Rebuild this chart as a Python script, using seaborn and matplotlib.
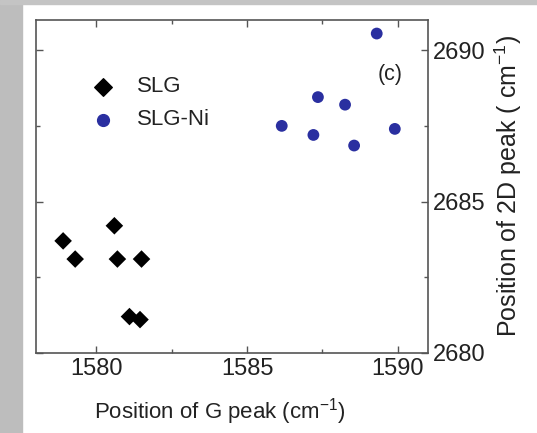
import numpy as np
import pandas as pd
import seaborn as sns
import matplotlib.pyplot as plt
from matplotlib.ticker import MultipleLocator
from matplotlib.patches import Rectangle

# data
slg_g = [1578.9, 1579.3, 1580.6, 1580.7, 1581.5, 1581.1, 1581.45]
slg_2d = [2683.7, 2683.1, 2684.2, 2683.1, 2683.1, 2681.2, 2681.1]
ni_g = [1589.3, 1587.35, 1588.25, 1586.15, 1587.2, 1588.55, 1589.9]
ni_2d = [2690.55, 2688.45, 2688.2, 2687.5, 2687.2, 2686.85, 2687.4]
groups = ['SLG', 'SLG-Ni']

df = pd.DataFrame({
    'G': slg_g + ni_g,
    '2D': slg_2d + ni_2d,
    'sample': [groups[0]] * len(slg_g) + [groups[1]] * len(ni_g),
})

sns.set_style('white')
plt.rcParams['font.family'] = ['Liberation Sans', 'DejaVu Sans']
plt.rcParams['mathtext.fontset'] = 'custom'
plt.rcParams['mathtext.rm'] = 'Liberation Sans'
plt.rcParams['mathtext.it'] = 'Liberation Sans:italic'

fig = plt.figure(figsize=(5.37, 4.33), dpi=100)
# grey border of the scanned page
fig.patches.append(Rectangle((0, 0), 22 / 537, 1, transform=fig.transFigure,
                             color='#bdbdbd', zorder=0))
fig.patches.append(Rectangle((0, 1 - 4 / 433), 1, 4 / 433, transform=fig.transFigure,
                             color='#c4c4c4', zorder=0))
ax = fig.add_axes([0.067, 0.185, 0.730, 0.769])

sns.scatterplot(data=df, x='G', y='2D', hue='sample', style='sample',
                palette={'SLG': 'black', 'SLG-Ni': '#2a2fa0'},
                markers={'SLG': 'D', 'SLG-Ni': 'o'},
                size='sample', sizes={'SLG': 80, 'SLG-Ni': 72},
                edgecolor='none', ax=ax, legend=False)

ax.set_xlim(1578, 1591)
ax.set_ylim(2680, 2691)
ax.xaxis.set_major_locator(MultipleLocator(5))
ax.xaxis.set_minor_locator(MultipleLocator(2.5))
ax.yaxis.set_major_locator(MultipleLocator(5))
ax.yaxis.set_minor_locator(MultipleLocator(2.5))
ax.tick_params(which='both', direction='in', top=True, bottom=True, left=True,
               right=True, labelleft=False, labelright=True, colors='#555555',
               labelcolor='#222222', labelsize=17)
ax.tick_params(which='major', length=5, width=1)
ax.tick_params(which='minor', length=3, width=1)
for s in ax.spines.values():
    s.set_color('#555555')
    s.set_linewidth(1.2)

ax.yaxis.set_label_position('right')
ax.set_xlabel('Position of G peak (cm$^{-1}$)', fontsize=16, color='#222222', labelpad=12)
ax.xaxis.label.set_x(0.469)
ax.set_ylabel('Position of 2D peak ( cm$^{-1}$)', fontsize=18, color='#222222', labelpad=5)

ax.text(0.903, 0.835, '(c)', transform=ax.transAxes, ha='center', va='center',
        fontsize=15.5, color='#222222')

# legend
ax.scatter([0.17], [0.80], marker='D', s=80, color='black', transform=ax.transAxes)
ax.scatter([0.17], [0.70], marker='o', s=72, color='#2a2fa0', transform=ax.transAxes)
ax.text(0.258, 0.80, groups[0], transform=ax.transAxes, va='center', fontsize=16, color='#222222')
ax.text(0.258, 0.70, groups[1], transform=ax.transAxes, va='center', fontsize=16, color='#222222')

fig.savefig('out.png', dpi=100)
